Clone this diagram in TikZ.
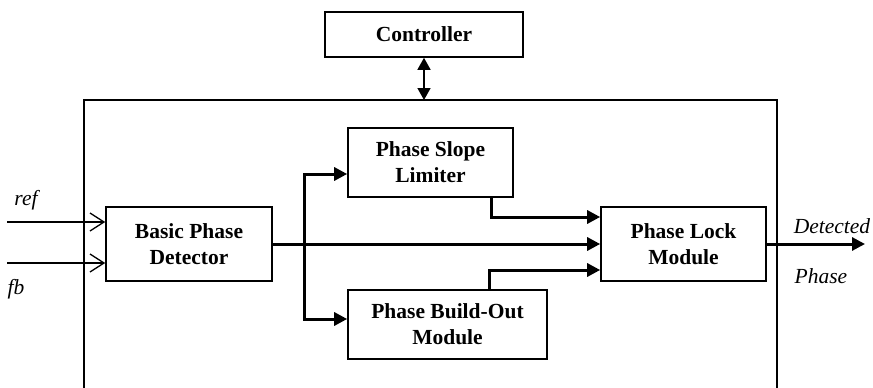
\documentclass[tikz,border=0pt]{standalone}
\usepackage{fontspec}
\setmainfont{Liberation Serif}
\usetikzlibrary{arrows.meta,calc}

\tikzset{
  block/.style={draw, line width=1.6pt, align=center, inner sep=0pt,
    font=\bfseries\fontsize{21.5}{26}\selectfont},
  frame/.style={line width=2pt},
  flow/.style={line width=3pt, -{Triangle[length=13pt,width=13pt]}},
  plainflow/.style={line width=3pt},
  sigin/.style={line width=1.3pt, -{Straight Barb[length=14pt,width=18pt,line width=1.3pt]}},
  ctrllink/.style={line width=1.5pt, {Triangle[length=12pt,width=13pt]}-{Triangle[length=12pt,width=13pt]}},
  siglabel/.style={font=\itshape\fontsize{21.5}{26}\selectfont, inner sep=0pt}
}

\begin{document}
\begin{tikzpicture}[x=1pt,y=-1pt]
\useasboundingbox (0,0) rectangle (873,388);

% outer module frame, open at the bottom edge
\coordinate (frameTL) at (84,100);
\coordinate (frameTR) at (777,100);
\draw[frame] (84,388) -- (frameTL) -- (frameTR) -- (777,388);

% blocks
\node[block, minimum width=198pt, minimum height=45pt] (ctrl) at (424,34.5) {Controller};
\node[block, minimum width=166pt, minimum height=74pt] (bpd) at (189,244) {Basic Phase\\Detector};
\node[block, minimum width=165pt, minimum height=69pt] (psl) at (430.5,162.5) {Phase Slope\\Limiter};
\node[block, minimum width=199pt, minimum height=69pt] (pbm) at (447.5,324.5) {Phase Build-Out\\Module};
\node[block, minimum width=165pt, minimum height=74pt] (plm) at (683.5,244) {Phase Lock\\Module};

% controller link
\draw[ctrllink] (ctrl.south) -- (ctrl.south |- frameTL);

% inputs
\coordinate (refin) at (7,222);
\coordinate (fbin) at (7,263);
\draw[sigin] (refin) -- (refin -| bpd.west);
\draw[sigin] (fbin) -- (fbin -| bpd.west);
\node[siglabel] (reflbl) at (26,200) {ref};
\node[siglabel] (fblbl) at (16,289) {fb};

% main path and branches
\coordinate (branch) at (304,244);
\draw[flow] (bpd.east) -- (plm.west);
\draw[plainflow] ([yshift=-11.5pt]psl.west -| branch) -- ([yshift=5.5pt]pbm.west -| branch);
\draw[flow] (branch) |- ([yshift=-11.5pt]psl.west);
\draw[flow] (branch) |- ([yshift=5.5pt]pbm.west);

% outputs of the side blocks into the lock module
\draw[flow] ([xshift=60.5pt]psl.south) |- ([yshift=27pt]plm.west);
\draw[flow] ([xshift=41.5pt]pbm.north) |- ([yshift=-26pt]plm.west);

% detected phase output
\coordinate (phaseout) at (865,244);
\draw[flow] (plm.east) -- (phaseout);
\node[siglabel] (detlbl) at (832,226) {Detected};
\node[siglabel] (phlbl) at (821,276) {Phase};
\end{tikzpicture}
\end{document}
